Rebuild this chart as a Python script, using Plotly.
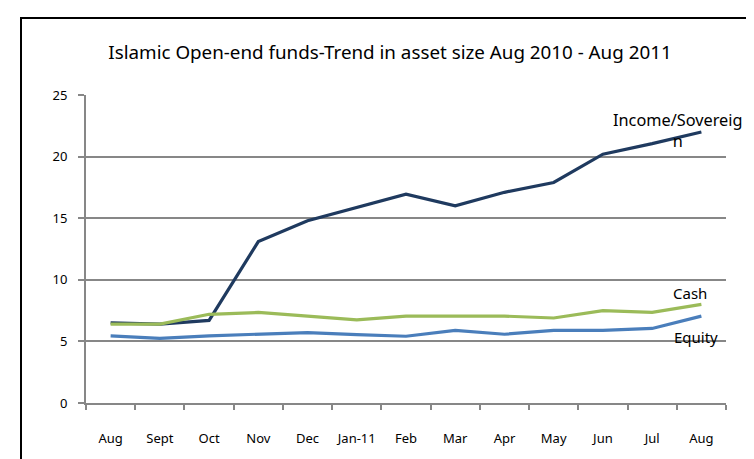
import plotly.graph_objects as go

# ---- data ----
period_keys = ["Aug 2010", "Sep 2010", "Oct 2010", "Nov 2010", "Dec 2010", "Jan 2011",
               "Feb 2011", "Mar 2011", "Apr 2011", "May 2011", "Jun 2011", "Jul 2011", "Aug 2011"]
tick_labels = ["Aug", "Sept", "Oct", "Nov", "Dec", "Jan-11", "Feb", "Mar", "Apr", "May", "Jun", "Jul", "Aug"]
income_sovereign = [6.5, 6.4, 6.7, 13.1, 14.8, 15.85, 16.95, 16.0, 17.1, 17.9, 20.2, 21.05, 22.0]
cash = [6.4, 6.4, 7.2, 7.35, 7.05, 6.75, 7.05, 7.05, 7.05, 6.9, 7.5, 7.35, 8.0]
equity = [5.45, 5.25, 5.45, 5.6, 5.72, 5.55, 5.42, 5.9, 5.58, 5.9, 5.9, 6.05, 7.05]
y_ticks = [0, 5, 10, 15, 20, 25]

W, H = 754, 459
ML, MR, MT, MB = 78, 36, 87, 64
PW, PH = W - ML - MR, H - MT - MB

def px_x(px):
    return (px - ML) / PW

def px_y(py):
    return (H - MB - py) / PH

FONT = "Noto Sans"

fig = go.Figure()
fig.add_trace(go.Scatter(x=period_keys, y=income_sovereign, mode="lines", name="Income/Sovereign",
                         line=dict(color="#1F3A5F", width=3.2)))
fig.add_trace(go.Scatter(x=period_keys, y=cash, mode="lines", name="Cash",
                         line=dict(color="#9BBB59", width=3.2)))
fig.add_trace(go.Scatter(x=period_keys, y=equity, mode="lines", name="Equity",
                         line=dict(color="#4A7EBB", width=3.2)))

fig.update_layout(
    width=W, height=H,
    margin=dict(l=ML, r=MR, t=MT, b=MB, autoexpand=False),
    paper_bgcolor="white", plot_bgcolor="white",
    showlegend=False,
    font=dict(family=FONT, color="#000000", size=13),
    title=dict(text="Islamic Open-end funds-Trend in asset size Aug 2010 - Aug 2011",
               x=px_x(382), xref="paper", xanchor="center",
               y=1 - 44 / H, yref="container", yanchor="middle",
               font=dict(family=FONT, size=18.8, color="#000000")),
)

fig.update_xaxes(
    type="category", tickmode="array", tickvals=period_keys, ticktext=tick_labels,
    tickson="boundaries", ticks="outside", ticklen=5, tickwidth=1.5, tickcolor="#878787",
    showline=True, linecolor="#878787", linewidth=2, showgrid=False, tickangle=0,
    automargin=False,
    ticklabelstandoff=22, tickfont=dict(family=FONT, size=13, color="#000000"),
    range=[-0.5, 12.5], fixedrange=True,
)
fig.update_yaxes(
    range=[0, 25], tickvals=y_ticks, ticks="outside", ticklen=6, tickwidth=1.5,
    tickcolor="#878787", showline=True, linecolor="#878787", linewidth=2,
    showgrid=True, gridcolor="#878787", gridwidth=1.5, zeroline=False, automargin=False,
    ticklabelstandoff=8, tickfont=dict(family=FONT, size=13, color="#000000"),
)

# series labels
fig.add_annotation(text="Income/Sovereig<br>n", xref="paper", yref="paper",
                   x=px_x(669), y=px_y(122), xanchor="center", yanchor="middle",
                   showarrow=False, align="center",
                   font=dict(family=FONT, size=16.3, color="#000000"))
fig.add_annotation(text="Cash", xref="paper", yref="paper",
                   x=px_x(682), y=px_y(285), xanchor="center", yanchor="middle",
                   showarrow=False, font=dict(family=FONT, size=15, color="#000000"))
fig.add_annotation(text="Equity", xref="paper", yref="paper",
                   x=px_x(688), y=px_y(329), xanchor="center", yanchor="middle",
                   showarrow=False, font=dict(family=FONT, size=15, color="#000000"))

# outer chart frame
fig.add_shape(type="rect", xref="paper", yref="paper",
              x0=px_x(13), x1=px_x(746), y0=px_y(470), y1=px_y(10),
              line=dict(color="#000000", width=2), fillcolor="rgba(0,0,0,0)", layer="above")

fig.write_html("out.html")
